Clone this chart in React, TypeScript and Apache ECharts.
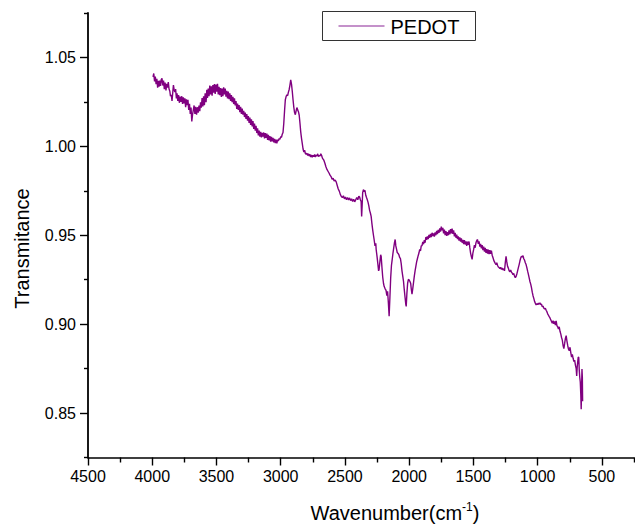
import React, { useEffect, useRef } from "react";
import * as echarts from "echarts";

// FTIR spectrum of PEDOT: [wavenumber (cm-1), transmittance]
const pedotSpectrum: [number, number][] = [
  [3994, 1.0391], [3988, 1.041], [3982, 1.0365], [3976, 1.0392], [3970, 1.035], [3964, 1.038],
  [3958, 1.033], [3952, 1.0368], [3947, 1.0335], [3941, 1.037], [3935, 1.034], [3930, 1.0375],
  [3924, 1.0382], [3918, 1.0342], [3912, 1.037], [3906, 1.0322], [3900, 1.0358], [3893, 1.0315],
  [3887, 1.0352], [3881, 1.033], [3875, 1.0362], [3869, 1.0322], [3863, 1.031], [3858, 1.0282],
  [3852, 1.029], [3846, 1.0255], [3840, 1.0305], [3835, 1.0345], [3830, 1.032], [3824, 1.0305],
  [3818, 1.0322], [3812, 1.027], [3807, 1.0298], [3801, 1.0255], [3795, 1.0288], [3789, 1.0245],
  [3783, 1.028], [3776, 1.025], [3770, 1.0282], [3764, 1.0238], [3758, 1.0275], [3752, 1.0242],
  [3746, 1.027], [3740, 1.022], [3734, 1.0265], [3729, 1.0232], [3722, 1.0262], [3716, 1.0205],
  [3710, 1.024], [3704, 1.0182], [3698, 1.0218], [3692, 1.014], [3686, 1.018], [3680, 1.0205],
  [3674, 1.023], [3668, 1.0182], [3662, 1.0222], [3655, 1.0178], [3649, 1.022], [3642, 1.019],
  [3636, 1.023], [3630, 1.0198], [3624, 1.0248], [3618, 1.0218], [3612, 1.0272], [3606, 1.0225],
  [3600, 1.0282], [3594, 1.0232], [3588, 1.0298], [3581, 1.0248], [3575, 1.0318], [3570, 1.0272],
  [3564, 1.0325], [3558, 1.0282], [3552, 1.0342], [3546, 1.0292], [3540, 1.0338], [3534, 1.0285],
  [3528, 1.0345], [3522, 1.0302], [3516, 1.035], [3510, 1.0295], [3504, 1.0348], [3498, 1.0308],
  [3492, 1.0352], [3486, 1.0292], [3480, 1.0335], [3474, 1.0288], [3468, 1.0328], [3462, 1.0278],
  [3456, 1.0325], [3450, 1.0282], [3444, 1.0332], [3438, 1.0292], [3432, 1.0325], [3426, 1.028],
  [3420, 1.0312], [3414, 1.027], [3408, 1.0308], [3402, 1.0265], [3396, 1.0298], [3390, 1.0255],
  [3384, 1.0288], [3378, 1.0248], [3372, 1.0278], [3366, 1.0238], [3360, 1.027], [3354, 1.023],
  [3348, 1.0255], [3342, 1.021], [3336, 1.024], [3330, 1.0205], [3324, 1.0232], [3318, 1.0192],
  [3312, 1.0222], [3306, 1.0182], [3300, 1.0212], [3294, 1.0178], [3288, 1.0200], [3282, 1.0165],
  [3276, 1.019], [3270, 1.0155], [3264, 1.0182], [3258, 1.0145], [3252, 1.017], [3246, 1.0132],
  [3240, 1.0162], [3234, 1.012], [3228, 1.0152], [3222, 1.0112], [3216, 1.0142], [3210, 1.0098],
  [3204, 1.0128], [3198, 1.0088], [3192, 1.0115], [3186, 1.0075], [3180, 1.0102], [3174, 1.0062],
  [3168, 1.0088], [3162, 1.0055], [3156, 1.0082], [3150, 1.005], [3144, 1.0076], [3138, 1.0055],
  [3132, 1.0078], [3126, 1.0045], [3120, 1.0074], [3114, 1.0048], [3108, 1.0072], [3102, 1.0036],
  [3096, 1.0065], [3090, 1.0034], [3084, 1.0058], [3078, 1.0026], [3072, 1.0053], [3066, 1.0028],
  [3060, 1.0048], [3054, 1.0022], [3048, 1.0042], [3042, 1.0018], [3036, 1.0038], [3030, 1.0017],
  [3024, 1.0038], [3018, 1.003], [3012, 1.0045], [3006, 1.004], [3000, 1.0055], [2994, 1.005],
  [2988, 1.0068], [2982, 1.0078], [2976, 1.013], [2970, 1.02], [2964, 1.0262], [2958, 1.028],
  [2952, 1.029], [2946, 1.0285], [2940, 1.0305], [2934, 1.032], [2928, 1.0345], [2922, 1.0374],
  [2916, 1.035], [2910, 1.031], [2904, 1.0262], [2898, 1.022], [2892, 1.019], [2886, 1.0178],
  [2880, 1.02], [2874, 1.0218], [2868, 1.0205], [2862, 1.0195], [2856, 1.0175], [2850, 1.013],
  [2844, 1.008], [2838, 1.0045], [2832, 1.0015], [2826, 0.9985], [2820, 0.9968], [2814, 0.9978],
  [2808, 0.996], [2802, 0.9955], [2796, 0.9962], [2790, 0.9948], [2784, 0.9958], [2778, 0.9945],
  [2772, 0.9955], [2766, 0.994], [2760, 0.9952], [2754, 0.9938], [2748, 0.995], [2742, 0.9942],
  [2736, 0.9955], [2730, 0.994], [2724, 0.9952], [2718, 0.9945], [2712, 0.9958], [2706, 0.9942],
  [2700, 0.995], [2694, 0.9945], [2688, 0.9958], [2682, 0.995], [2676, 0.9935], [2670, 0.9928],
  [2664, 0.9922], [2656, 0.9905], [2648, 0.9885], [2640, 0.987], [2632, 0.986], [2624, 0.985],
  [2616, 0.9838], [2608, 0.983], [2600, 0.9815], [2592, 0.982], [2584, 0.9805], [2576, 0.981],
  [2568, 0.98], [2560, 0.978], [2552, 0.976], [2544, 0.9748], [2536, 0.973], [2528, 0.9718],
  [2520, 0.9712], [2512, 0.9722], [2504, 0.9705], [2496, 0.9715], [2488, 0.97], [2480, 0.9712],
  [2472, 0.9698], [2464, 0.971], [2456, 0.9695], [2448, 0.9705], [2440, 0.969], [2432, 0.9702],
  [2424, 0.9688], [2416, 0.97], [2408, 0.9712], [2400, 0.97], [2392, 0.972], [2386, 0.9715],
  [2380, 0.97], [2374, 0.969], [2370, 0.9606], [2366, 0.967], [2362, 0.974], [2356, 0.9757],
  [2350, 0.9745], [2344, 0.9752], [2338, 0.9725], [2332, 0.9712], [2326, 0.97], [2320, 0.9685],
  [2314, 0.9665], [2308, 0.964], [2302, 0.9625], [2296, 0.9606], [2290, 0.9565], [2284, 0.953],
  [2278, 0.95], [2273, 0.9476], [2266, 0.944], [2260, 0.9455], [2257, 0.942], [2250, 0.938],
  [2244, 0.934], [2238, 0.93], [2234, 0.9308], [2228, 0.935], [2222, 0.939], [2218, 0.9381],
  [2212, 0.932], [2206, 0.9265], [2200, 0.923], [2195, 0.9213], [2188, 0.92], [2180, 0.919],
  [2174, 0.916], [2168, 0.9185], [2162, 0.912], [2156, 0.9044], [2150, 0.915], [2144, 0.926],
  [2138, 0.933], [2132, 0.9364], [2126, 0.94], [2120, 0.943], [2114, 0.946], [2109, 0.9476],
  [2104, 0.944], [2098, 0.942], [2093, 0.9403], [2086, 0.9398], [2080, 0.939], [2074, 0.9375],
  [2068, 0.9368], [2062, 0.934], [2056, 0.93], [2050, 0.927], [2044, 0.924], [2039, 0.92],
  [2032, 0.915], [2026, 0.911], [2023, 0.91], [2018, 0.917], [2012, 0.923], [2006, 0.9252],
  [2000, 0.9248], [1994, 0.924], [1988, 0.9228], [1984, 0.92], [1978, 0.9168], [1972, 0.92],
  [1966, 0.9235], [1960, 0.927], [1954, 0.93], [1948, 0.9325], [1942, 0.935], [1936, 0.9368],
  [1930, 0.9385], [1924, 0.94], [1918, 0.942], [1912, 0.9412], [1906, 0.9440], [1900, 0.9442],
  [1894, 0.9462], [1888, 0.9450], [1882, 0.9472], [1876, 0.9458], [1870, 0.9490], [1864, 0.9474],
  [1858, 0.9493], [1852, 0.9478], [1846, 0.9502], [1840, 0.9486], [1834, 0.9508], [1828, 0.9490],
  [1822, 0.9514], [1816, 0.9496], [1810, 0.951], [1804, 0.9492], [1798, 0.9516], [1792, 0.95],
  [1786, 0.9524], [1780, 0.9506], [1774, 0.953], [1768, 0.9514], [1762, 0.9538], [1756, 0.952],
  [1750, 0.9548], [1744, 0.9528], [1738, 0.9542], [1732, 0.951], [1726, 0.9532], [1720, 0.95],
  [1714, 0.9524], [1708, 0.9496], [1702, 0.9518], [1696, 0.95], [1690, 0.9528], [1684, 0.9505],
  [1678, 0.9534], [1672, 0.951], [1666, 0.9538], [1660, 0.9508], [1654, 0.9528], [1648, 0.9494],
  [1642, 0.9514], [1636, 0.9486], [1630, 0.9504], [1624, 0.9478], [1618, 0.9494], [1612, 0.947],
  [1606, 0.9488], [1600, 0.9464], [1594, 0.9482], [1588, 0.9458], [1582, 0.9474], [1576, 0.945],
  [1570, 0.9472], [1564, 0.9448], [1558, 0.9466], [1552, 0.944], [1546, 0.9464], [1540, 0.9446],
  [1534, 0.9465], [1528, 0.943], [1522, 0.94], [1516, 0.938], [1510, 0.9364], [1504, 0.94],
  [1498, 0.942], [1492, 0.9445], [1486, 0.943], [1480, 0.9458], [1474, 0.947], [1468, 0.9476],
  [1462, 0.9452], [1456, 0.9466], [1450, 0.9436], [1444, 0.9452], [1438, 0.9426], [1432, 0.9444],
  [1426, 0.9416], [1420, 0.9436], [1414, 0.9408], [1408, 0.9429], [1402, 0.9401], [1396, 0.9422],
  [1390, 0.9396], [1384, 0.9419], [1378, 0.9394], [1372, 0.9416], [1366, 0.9396], [1360, 0.9414],
  [1354, 0.9388], [1348, 0.9375], [1342, 0.936], [1336, 0.935], [1330, 0.9342], [1324, 0.9335],
  [1318, 0.9345], [1312, 0.933], [1306, 0.9322], [1300, 0.9318], [1294, 0.9312], [1288, 0.932],
  [1282, 0.9308], [1276, 0.9315], [1270, 0.9305], [1264, 0.9312], [1258, 0.93], [1252, 0.9345],
  [1246, 0.9381], [1240, 0.935], [1234, 0.9325], [1228, 0.9315], [1222, 0.93], [1216, 0.9295],
  [1210, 0.9305], [1204, 0.9292], [1198, 0.9288], [1192, 0.9278], [1186, 0.9285], [1180, 0.927],
  [1174, 0.9262], [1168, 0.9268], [1162, 0.9282], [1156, 0.93], [1150, 0.9318], [1144, 0.9335],
  [1138, 0.9355], [1132, 0.9372], [1126, 0.9382], [1120, 0.9378], [1114, 0.9385], [1108, 0.9368],
  [1102, 0.936], [1096, 0.9345], [1090, 0.9335], [1084, 0.9318], [1078, 0.9298], [1072, 0.928],
  [1066, 0.926], [1060, 0.924], [1054, 0.9225], [1048, 0.9205], [1042, 0.918], [1036, 0.916],
  [1030, 0.9145], [1024, 0.9128], [1018, 0.9118], [1012, 0.9108], [1006, 0.9115], [1000, 0.911],
  [994, 0.9118], [988, 0.9112], [982, 0.912], [976, 0.911], [970, 0.9112], [964, 0.9098],
  [958, 0.9102], [952, 0.909], [946, 0.9085], [940, 0.909], [934, 0.9078], [928, 0.907],
  [922, 0.9058], [916, 0.905], [910, 0.9042], [904, 0.9035], [898, 0.9025], [892, 0.9015],
  [886, 0.9005], [880, 0.902], [874, 0.9002], [868, 0.9015], [862, 0.8995], [856, 0.9018],
  [850, 0.8992], [844, 0.8985], [838, 0.8972], [832, 0.8985], [826, 0.896], [820, 0.8945],
  [814, 0.8925], [808, 0.891], [802, 0.888], [796, 0.8862], [790, 0.889], [784, 0.892],
  [778, 0.8935], [772, 0.8905], [766, 0.888], [760, 0.886], [754, 0.885], [748, 0.887],
  [742, 0.884], [736, 0.8815], [730, 0.883], [724, 0.8808], [718, 0.879], [712, 0.8798],
  [706, 0.877], [700, 0.875], [696, 0.8708], [692, 0.876], [688, 0.879], [684, 0.8815],
  [680, 0.8812], [676, 0.874], [672, 0.87], [668, 0.8674], [664, 0.86], [661, 0.8522],
  [658, 0.864], [655, 0.8747], [652, 0.87], [650, 0.8567],
];

const xLabelValues = [4500, 4000, 3500, 3000, 2500, 2000, 1500, 1000, 500];
const xMinorValues = [4250, 3750, 3250, 2750, 2250, 1750, 1250, 750, 250];
const yLabelValues = [0.85, 0.9, 0.95, 1.0, 1.05];
const yMinorValues = [0.825, 0.875, 0.925, 0.975, 1.025, 1.075];

const FONT = "'Liberation Sans', Arial, sans-serif";
const LINE_COLOR = "#800080";

export default function App() {
  const ref = useRef<HTMLDivElement>(null);

  useEffect(() => {
    if (!ref.current) return;
    const chart = echarts.init(ref.current, undefined, { renderer: "svg" });

    const axisBase = {
      type: "value" as const,
      splitLine: { show: false },
    };

    chart.setOption({
      animation: false,
      backgroundColor: "#ffffff",
      grid: { left: 88, right: 1, top: 13, bottom: 66.5 },
      xAxis: [
        {
          ...axisBase,
          inverse: true,
          min: 250,
          max: 4500,
          axisLine: { show: true, lineStyle: { color: "#000", width: 1.6 } },
          axisTick: {
            show: true,
            length: 8,
            lineStyle: { color: "#000", width: 1.4 },
            customValues: xLabelValues,
          },
          axisLabel: {
            customValues: xLabelValues,
            margin: 11,
            fontSize: 16,
            color: "#000",
            fontFamily: FONT,
            formatter: (v: number) => String(v),
          },
        },
        {
          ...axisBase,
          inverse: true,
          min: 250,
          max: 4500,
          position: "bottom",
          axisLine: { show: false },
          axisTick: {
            show: true,
            length: 5,
            lineStyle: { color: "#000", width: 1.4 },
            customValues: xMinorValues,
          },
          axisLabel: { show: false },
        },
      ],
      yAxis: [
        {
          ...axisBase,
          min: 0.825,
          max: 1.075,
          axisLine: { show: true, lineStyle: { color: "#000", width: 1.8 } },
          axisTick: {
            show: true,
            length: 8,
            lineStyle: { color: "#000", width: 1.4 },
            customValues: yLabelValues,
          },
          axisLabel: {
            customValues: yLabelValues,
            margin: 12,
            fontSize: 16,
            color: "#000",
            fontFamily: FONT,
            formatter: (v: number) => v.toFixed(2),
          },
        },
        {
          ...axisBase,
          min: 0.825,
          max: 1.075,
          position: "left",
          axisLine: { show: false },
          axisTick: {
            show: true,
            length: 4,
            lineStyle: { color: "#000", width: 1.4 },
            customValues: yMinorValues,
          },
          axisLabel: { show: false },
        },
      ],
      graphic: [
        // legend box
        {
          type: "group",
          left: 322,
          top: 11,
          children: [
            {
              type: "rect",
              shape: { x: 0, y: 0, width: 153, height: 29 },
              style: { fill: "#fff", stroke: "#333", lineWidth: 1 },
            },
            {
              type: "line",
              shape: { x1: 16, y1: 14.5, x2: 62, y2: 14.5 },
              style: { stroke: "#b06db8", lineWidth: 1.5 },
            },
            {
              type: "text",
              x: 68,
              y: 15,
              style: {
                text: "PEDOT",
                fontSize: 20,
                fontFamily: FONT,
                fill: "#000",
                verticalAlign: "middle",
              },
            },
          ],
        },
        {
          type: "text",
          x: 21.5,
          y: 248.5,
          rotation: Math.PI / 2,
          style: {
            text: "Transmitance",
            fontSize: 20,
            fontFamily: FONT,
            fill: "#000",
            align: "center",
            verticalAlign: "middle",
          },
        },
        {
          type: "text",
          x: 395,
          y: 512,
          style: {
            text: "{a|Wavenumber(cm}{s|-1}{a|)}",
            fontFamily: FONT,
            fill: "#000",
            align: "center",
            verticalAlign: "middle",
            rich: {
              a: { fontSize: 20, fontFamily: FONT, fill: "#000", color: "#000", verticalAlign: "bottom" },
              s: {
                fontSize: 12,
                fontFamily: FONT,
                fill: "#000",
                color: "#000",
                verticalAlign: "top",
                padding: [0, 0, 10, 0],
              },
            },
          },
        },
      ],
      series: [
        {
          name: "PEDOT",
          type: "line",
          xAxisIndex: 0,
          yAxisIndex: 0,
          showSymbol: false,
          symbol: "none",
          data: pedotSpectrum,
          lineStyle: { color: LINE_COLOR, width: 1.4 },
          itemStyle: { color: LINE_COLOR },
        },
      ],
    });

    return () => chart.dispose();
  }, []);

  return (
    <div
      ref={ref}
      style={{ position: "fixed", left: 0, top: 0, width: 635, height: 524 }}
    />
  );
}
